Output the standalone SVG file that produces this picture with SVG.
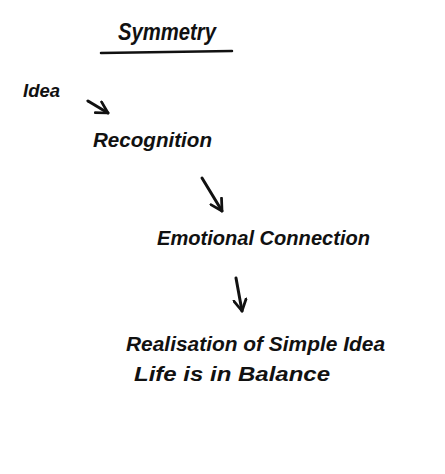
<svg xmlns="http://www.w3.org/2000/svg" width="445" height="474" viewBox="0 0 445 474">
<defs>
<marker id="vhead" viewBox="0 0 12 12" refX="10" refY="6" markerWidth="5" markerHeight="5" orient="auto" markerUnits="strokeWidth">
<path d="M1,1 L10,6 L1,11" fill="none" stroke="#111" stroke-width="2.2" stroke-linecap="round" stroke-linejoin="round"/>
</marker>
<style>
.t{font-family:"Liberation Sans","DejaVu Sans",sans-serif;font-style:italic;font-weight:bold;fill:#111;}
.c{fill:none;stroke:#111;stroke-width:3;stroke-linecap:round;marker-end:url(#vhead);}
.u{fill:none;stroke:#111;stroke-width:2.5;stroke-linecap:round;}
</style>
</defs>
<rect width="445" height="474" fill="#fff"/>
<g id="title">
<text class="t" x="118" y="40" font-size="23" textLength="98" lengthAdjust="spacingAndGlyphs">Symmetry</text>
<path class="u" d="M101,53 L232,51"/>
</g>
<g id="idea">
<text class="t" x="23" y="97" font-size="18" textLength="37" lengthAdjust="spacingAndGlyphs">Idea</text>
</g>
<g id="recognition">
<text class="t" x="93" y="147" font-size="21" textLength="119" lengthAdjust="spacingAndGlyphs">Recognition</text>
</g>
<g id="emotional">
<text class="t" x="157" y="245" font-size="21" textLength="213" lengthAdjust="spacingAndGlyphs">Emotional Connection</text>
</g>
<g id="realisation">
<text class="t" x="126" y="351" font-size="21" textLength="259" lengthAdjust="spacingAndGlyphs">Realisation of Simple Idea</text>
<text class="t" x="134" y="381" font-size="21" textLength="196" lengthAdjust="spacingAndGlyphs">Life is in Balance</text>
</g>
<g id="connectors">
<path class="c" d="M88,101 L108,113"/>
<path class="c" d="M202,178 L222,211"/>
<path class="c" d="M236,278 L242,311"/>
</g>
</svg>
